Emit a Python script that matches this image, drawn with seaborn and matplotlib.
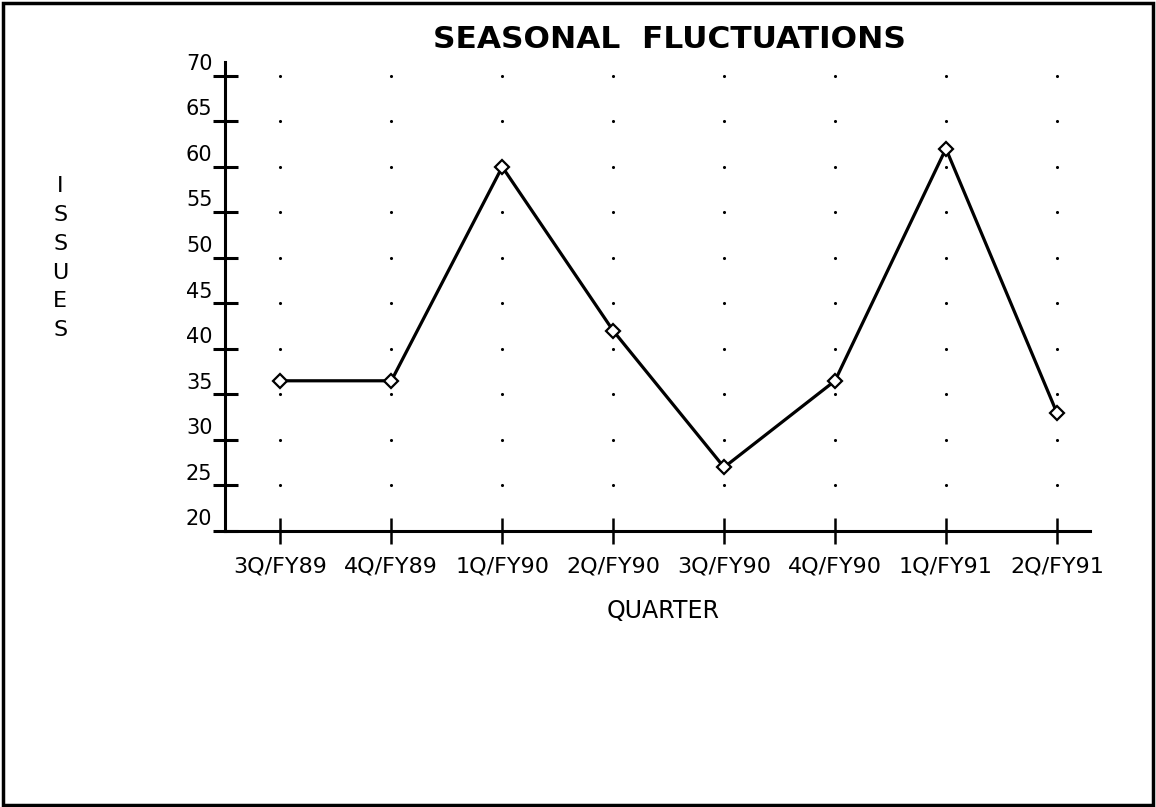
import numpy as np
import pandas as pd
import matplotlib
matplotlib.use("Agg")
import matplotlib.pyplot as plt
import matplotlib.transforms as mtransforms
from matplotlib.patches import Rectangle
import seaborn as sns

quarters = ['3Q/FY89', '4Q/FY89', '1Q/FY90', '2Q/FY90',
            '3Q/FY90', '4Q/FY90', '1Q/FY91', '2Q/FY91']
issues = [36.5, 36.5, 60, 42, 27, 36.5, 62, 33]
y_ticks = [20, 25, 30, 35, 40, 45, 50, 55, 60, 65, 70]

sns.set_style("ticks", {'text.color': 'black', 'xtick.color': 'black',
                        'ytick.color': 'black', 'axes.labelcolor': 'black'})
plt.rcParams['font.family'] = ['DejaVu Sans']

df = pd.DataFrame({'pos': np.arange(len(quarters)), 'quarter': quarters, 'issues': issues})

fig = plt.figure(figsize=(11.56, 8.07), dpi=100)
ax = fig.add_axes([0.1946, 0.342, 0.943 - 0.1946, 0.923 - 0.342])

# dotted grid: one dot per category / y tick
gx, gy = np.meshgrid(df['pos'], y_ticks[1:])
ax.scatter(gx.ravel(), gy.ravel(), s=5, color='black', zorder=1, linewidths=0)

sns.lineplot(data=df, x='pos', y='issues', ax=ax, color='black', linewidth=2.3,
             marker='D', markersize=7, markerfacecolor='white',
             markeredgecolor='black', markeredgewidth=1.6, zorder=3)

ax.set_xlim(-0.5, 7.3)
ax.set_ylim(20, 71.5)
ax.set_xticks(df['pos'])
ax.set_xticklabels(quarters, fontsize=16)
ax.set_yticks(y_ticks)
ax.set_yticklabels([str(t) for t in y_ticks], fontsize=15)

for side in ['top', 'right']:
    ax.spines[side].set_visible(False)
for side in ['left', 'bottom']:
    ax.spines[side].set_linewidth(2.2)
    ax.spines[side].set_color('black')

ax.tick_params(axis='y', left=True, direction='inout', length=18, width=2.2, pad=0,
               color='black', labelcolor='black')
ax.tick_params(axis='x', bottom=True, direction='inout', length=19, width=1.8, pad=9,
               color='black', labelcolor='black')

# y labels sit just above their ticks
shift = mtransforms.ScaledTranslation(0, 10 / 72, fig.dpi_scale_trans)
for lab in ax.get_yticklabels():
    lab.set_transform(lab.get_transform() + shift)

ax.set_xlabel('QUARTER', fontsize=17, color='black')
ax.xaxis.set_label_coords(0.507, -0.145)
ax.set_ylabel('')

fig.text(0.052, 0.68, 'I\nS\nS\nU\nE\nS', fontsize=16, ha='center', va='center',
         linespacing=1.55, color='black')
fig.text(0.579, 0.951, 'SEASONAL  FLUCTUATIONS', fontsize=22.5, fontweight='bold',
         ha='center', va='center', color='black')

fig.patches.append(Rectangle((0.003, 0.003), 0.994, 0.993, transform=fig.transFigure,
                             fill=False, edgecolor='black', linewidth=2.5))

fig.savefig('out.png', dpi=100)
